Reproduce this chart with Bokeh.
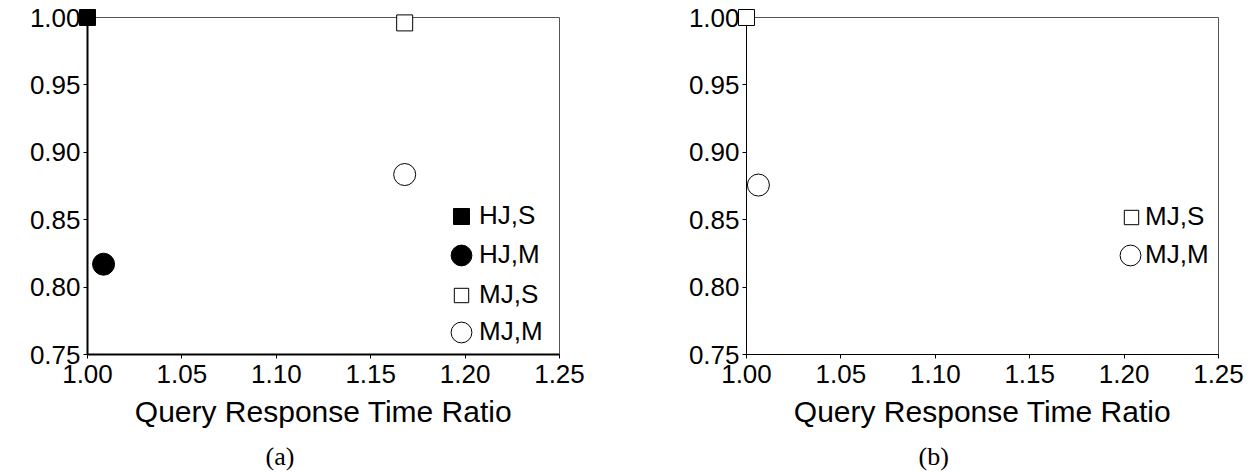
from bokeh.plotting import figure
from bokeh.models import (FixedTicker, PrintfTickFormatter, Legend, LegendItem,
                          Title, ColumnDataSource, Range1d)
from bokeh.layouts import row
from bokeh.embed import file_html
from bokeh.resources import INLINE

# ---------------- data ----------------
x_ticks = [1.00, 1.05, 1.10, 1.15, 1.20, 1.25]
y_ticks = [0.75, 0.80, 0.85, 0.90, 0.95, 1.00]

a_labels = ["HJ,S", "HJ,M", "MJ,S", "MJ,M"]
a_x = [1.000, 1.0085, 1.168, 1.168]
a_y = [1.000, 0.817, 0.996, 0.8835]

b_labels = ["MJ,S", "MJ,M"]
b_x = [1.000, 1.0063]
b_y = [1.000, 0.8757]

x_title = "Query Response Time Ratio"
captions = ["(a)", "(b)"]

# ---------------- styles ----------------
STYLE = {
    "HJ,S": dict(marker="square", size=16, fill_color="black", line_color="black"),
    "HJ,M": dict(marker="circle", size=22, fill_color="black", line_color="black"),
    "MJ,S": dict(marker="square", size=16, fill_color="white", line_color="black"),
    "MJ,M": dict(marker="circle", size=22, fill_color="white", line_color="black"),
}
SANS = "Liberation Sans"
SERIF = "Liberation Serif"


def make_panel(labels, xs, ys, left_border, right_border, axis_w, caption, cap_offset,
               glyph_pos, text_pos):
    p = figure(output_backend="svg", toolbar_location=None,
               frame_width=472, frame_height=337,
               min_border_left=left_border, min_border_right=right_border,
               min_border_top=17, min_border_bottom=120,
               x_range=Range1d(x_ticks[0], x_ticks[-1]),
               y_range=Range1d(y_ticks[0], y_ticks[-1]))
    p.background_fill_color = "white"
    p.border_fill_color = "white"
    p.grid.visible = False
    p.outline_line_color = "#555555"
    p.outline_line_width = 1

    for ax, ticks in ((p.xaxis[0], x_ticks), (p.yaxis[0], y_ticks)):
        ax.ticker = FixedTicker(ticks=ticks)
        ax.formatter = PrintfTickFormatter(format="%.2f")
        ax.axis_line_color = "black"
        ax.axis_line_width = axis_w
        ax.major_tick_line_color = "black"
        ax.major_tick_out = 4
        ax.major_tick_in = 0
        ax.minor_tick_line_color = None
        ax.major_label_text_font = SANS
        ax.major_label_text_color = "black"
        ax.major_label_text_font_size = "26px"
    p.xaxis.major_label_standoff = 6
    p.yaxis.major_label_standoff = 3
    p.xaxis.axis_label = x_title
    p.xaxis.axis_label_text_font = SANS
    p.xaxis.axis_label_text_font_size = "30px"
    p.xaxis.axis_label_text_font_style = "normal"
    p.xaxis.axis_label_text_color = "black"
    p.xaxis.axis_label_standoff = 9

    # invisible helper renderer for text-only legend entries
    dummy = p.scatter(x=[], y=[], size=0, fill_alpha=0, line_alpha=0)

    for lab, x, y, (gx, gy, gw), (tx, ty) in zip(labels, xs, ys, glyph_pos, text_pos):
        src = ColumnDataSource(dict(x=[x], y=[y]))
        r = p.scatter("x", "y", source=src, line_width=1, level="overlay", **STYLE[lab])
        # marker part of the key
        lg = Legend(items=[LegendItem(label=" ", renderers=[r])],
                    location=(gx, gy), padding=0, margin=0, spacing=0,
                    glyph_width=gw, glyph_height=gw, label_height=gw,
                    label_standoff=0, label_text_font_size="4px",
                    border_line_alpha=0, background_fill_alpha=0)
        p.add_layout(lg, "center")
        # text part of the key
        lt = Legend(items=[LegendItem(label=lab, renderers=[dummy])],
                    location=(tx, ty), padding=0, margin=0, spacing=0,
                    glyph_width=1, glyph_height=30, label_height=30,
                    label_standoff=0,
                    label_text_font=SANS, label_text_font_size="26px",
                    label_text_color="black",
                    border_line_alpha=0, background_fill_alpha=0)
        p.add_layout(lt, "center")

    t = Title(text=caption, align="left", offset=cap_offset, vertical_align="bottom",
              text_font=SERIF, text_font_size="26px", text_font_style="normal",
              text_color="black", standoff=18)
    p.add_layout(t, "below")
    return p


pa = make_panel(a_labels, a_x, a_y, 87, 40, 2, captions[0], 178,
                [(354, 118, 40), (348, 73, 52), (356, 41, 36), (348, -4, 52)],
                [(391, 123), (391, 84), (391, 44), (391, 7)])
pb = make_panel(b_labels, b_x, b_y, 147, 30, 1, captions[1], 172,
                [(367, 119, 36), (358, 73, 52)],
                [(398, 122), (398, 84)])

layout = row(pa, pb)
open("out.html", "w").write(file_html(layout, INLINE))
